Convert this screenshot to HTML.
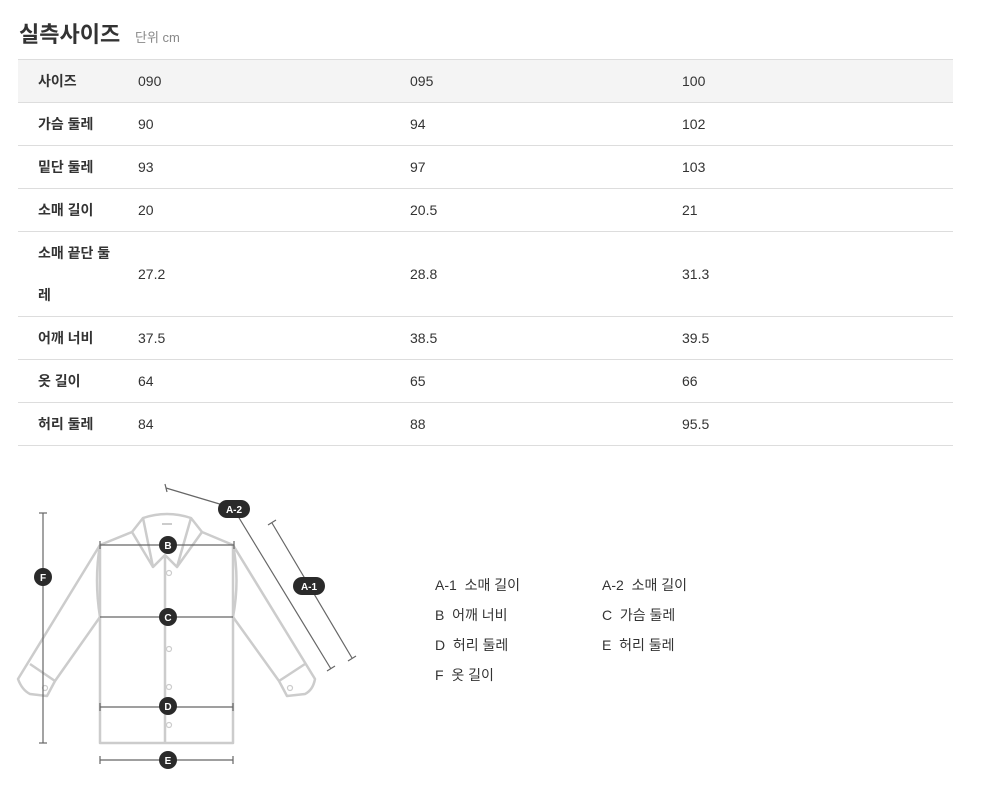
<!DOCTYPE html>
<html><head><meta charset="utf-8"><style>
body{margin:0;width:991px;height:797px;background:#fff;font-family:"Liberation Sans","Noto Sans CJK KR",sans-serif;color:#333;position:relative;overflow:hidden}
.t{position:absolute;left:19px;top:17px;font-size:22px;font-weight:bold;color:#333}
.u{position:absolute;left:135px;top:27px;font-size:13px;color:#888}
table{position:absolute;left:18px;top:59px;width:935px;border-collapse:collapse;font-size:14px}
td{border-bottom:1px solid #ddd;height:42px;padding:0;vertical-align:middle}
tr:first-child td{border-top:1px solid #ddd;background:#f4f4f4}
td.l{padding-left:20px;width:100px;font-weight:bold;color:#333}
td.a{width:272px}
.lg{position:absolute;font-size:14px;color:#333}
</style></head><body>
<div class="t">실측사이즈</div><div class="u">단위 cm</div>
<table>
<tr><td class="l">사이즈</td><td class="a">090</td><td class="a">095</td><td>100</td></tr>
<tr><td class="l">가슴 둘레</td><td>90</td><td>94</td><td>102</td></tr>
<tr><td class="l">밑단 둘레</td><td>93</td><td>97</td><td>103</td></tr>
<tr><td class="l">소매 길이</td><td>20</td><td>20.5</td><td>21</td></tr>
<tr><td class="l" style="height:84px;line-height:42px">소매 끝단 둘<br>레</td><td>27.2</td><td>28.8</td><td>31.3</td></tr>
<tr><td class="l">어깨 너비</td><td>37.5</td><td>38.5</td><td>39.5</td></tr>
<tr><td class="l">옷 길이</td><td>64</td><td>65</td><td>66</td></tr>
<tr><td class="l">허리 둘레</td><td>84</td><td>88</td><td>95.5</td></tr>
</table>
<svg width="991" height="797" style="position:absolute;left:0;top:0" font-family="Liberation Sans,sans-serif">
<g fill="none" stroke="#ccc" stroke-width="2.5" stroke-linejoin="round">
<path d="M100,545 L100,743 L233,743 L233,545"/>
<path d="M100,545 L132,532 L143,518 Q167,510 191,518 L202,532 L233,545"/>
<path d="M143,518 L153,567 L165,555 L177,567 L191,518"/>
<path d="M132,532 L153,567 M202,532 L177,567"/>
<line x1="165" y1="555" x2="165" y2="743"/>
<path d="M100,545 Q94,580 100,617 L55,681 L47,696 L30,694 Q22,690 18,679 L100,545"/>
<path d="M30,664 L55,681"/>
<path d="M233,545 Q240,580 233,617 L279,681 L287,696 L305,694 Q313,690 315,679 L233,545"/>
<path d="M305,664 L279,681"/>
</g>
<g fill="none" stroke="#ccc" stroke-width="1.2"><circle cx="169" cy="573" r="2.5"/><circle cx="169" cy="649" r="2.5"/><circle cx="169" cy="687" r="2.5"/><circle cx="169" cy="725" r="2.5"/><circle cx="45" cy="688" r="2.5"/><circle cx="290" cy="688" r="2.5"/></g>
<line x1="162" y1="524" x2="172" y2="524" stroke="#ccc" stroke-width="2"/>
<g stroke="#666" stroke-width="1.2">
<line x1="100" y1="545" x2="234" y2="545"/><line x1="100" y1="541" x2="100" y2="549"/><line x1="234" y1="541" x2="234" y2="549"/>
<line x1="100" y1="617" x2="233" y2="617"/>
<line x1="100" y1="707" x2="233" y2="707"/><line x1="100" y1="703" x2="100" y2="711"/><line x1="233" y1="703" x2="233" y2="711"/>
<line x1="100" y1="760" x2="233" y2="760"/><line x1="100" y1="756" x2="100" y2="764"/><line x1="233" y1="756" x2="233" y2="764"/>
<line x1="43" y1="513" x2="43" y2="743"/><line x1="39" y1="513" x2="47" y2="513"/><line x1="39" y1="743" x2="47" y2="743"/>
<line x1="166" y1="488" x2="233" y2="508"/><line x1="165" y1="484" x2="167" y2="492"/>
<line x1="233" y1="508" x2="331" y2="669"/><line x1="327" y1="671" x2="335" y2="666"/>
<line x1="272" y1="523" x2="352" y2="658"/><line x1="268" y1="525" x2="276" y2="520"/><line x1="348" y1="661" x2="356" y2="656"/>
</g>
<g fill="#2a2a2a"><circle cx="168" cy="545" r="9"/><circle cx="168" cy="617" r="9"/><circle cx="168" cy="706" r="9"/><circle cx="168" cy="760" r="9"/><circle cx="43" cy="577" r="9"/>
<rect x="218" y="500" width="32" height="18" rx="9"/><rect x="293" y="577" width="32" height="18" rx="9"/></g>
<g fill="#fff" font-size="10" font-weight="bold" text-anchor="middle">
<text x="168" y="549">B</text><text x="168" y="621">C</text><text x="168" y="710">D</text><text x="168" y="764">E</text><text x="43" y="581">F</text>
<text x="234" y="513">A-2</text><text x="309" y="590">A-1</text></g>
</svg>
<div class="lg" style="left:435px;top:575px">A-1&nbsp; 소매 길이</div>
<div class="lg" style="left:602px;top:575px">A-2&nbsp; 소매 길이</div>
<div class="lg" style="left:435px;top:605px">B&nbsp; 어깨 너비</div>
<div class="lg" style="left:602px;top:605px">C&nbsp; 가슴 둘레</div>
<div class="lg" style="left:435px;top:635px">D&nbsp; 허리 둘레</div>
<div class="lg" style="left:602px;top:635px">E&nbsp; 허리 둘레</div>
<div class="lg" style="left:435px;top:665px">F&nbsp; 옷 길이</div>
</body></html>
